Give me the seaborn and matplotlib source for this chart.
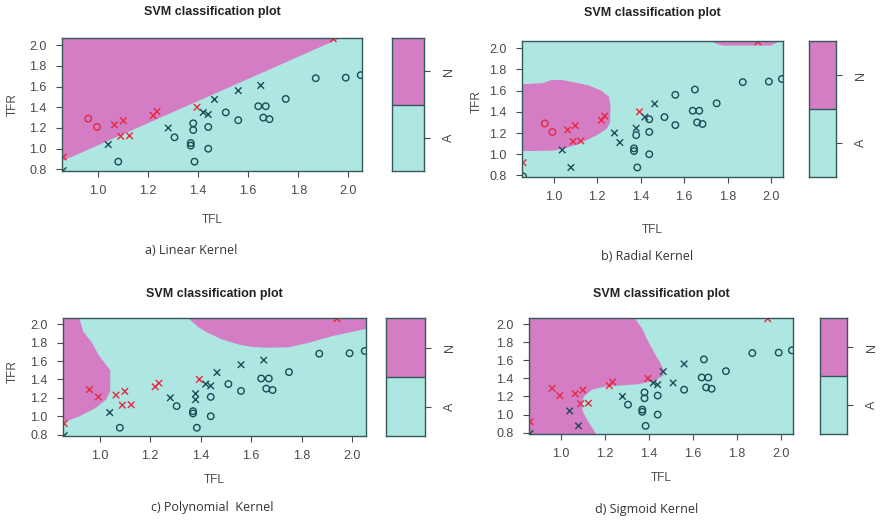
import numpy as np
import pandas as pd
import seaborn as sns
import matplotlib.pyplot as plt
from matplotlib.colors import ListedColormap

sns.set_style("white")
plt.rcParams['font.family'] = ['Liberation Sans', 'DejaVu Sans']

# 数据点 (TFL, TFR, 类别)
tfl = [0.96, 0.995, 1.065, 1.10, 1.09, 1.125, 1.22, 1.235, 1.395, 0.86, 1.94,
       0.86, 1.04, 1.08, 1.28, 1.305, 1.38, 1.38, 1.37, 1.37, 1.385,
       1.42, 1.44, 1.44, 1.44, 1.465, 1.51, 1.56, 1.56, 1.65, 1.64,
       1.67, 1.66, 1.685, 1.75, 1.87, 1.99, 2.05]
tfr = [1.29, 1.21, 1.23, 1.27, 1.12, 1.125, 1.32, 1.36, 1.40, 0.92, 2.06,
       0.79, 1.04, 0.875, 1.20, 1.11, 1.245, 1.18, 1.055, 1.03, 0.875,
       1.35, 1.33, 1.21, 1.00, 1.475, 1.35, 1.275, 1.56, 1.61, 1.41,
       1.41, 1.30, 1.285, 1.48, 1.68, 1.685, 1.71]
cls = ['N'] * 11 + ['A'] * 27

# 支持向量标记 (x = 支持向量, o = 普通数据点)
sv_linear = "ooxxxxxxxxx" + "xxoxooooooxxooxooxxoooooooo"
sv_radial = "ooxxxxxxxxx" + "oxxxxxooooxooo" + "xoooooooooooox"[:13]
sv_poly = "xxxxxxxxxxx" + "xxoxoxxoooxxooxooxx" + "oooooooo"
sv_sigmoid = "xxxxxxxxxxx" + "xxxxooooooxxooxxoxo" + "oooooooo"

# 决策区域 N 的边界 (数据坐标)
xmin, xmax = 0.855, 2.055
ymin, ymax = 0.785, 2.068
lin_tfl = [xmin, 1.97, xmin]
lin_tfr = [0.88, ymax, ymax]
rad1_tfl = [xmin, 0.90, 1.00, 1.06, 1.12, 1.20, 1.245, 1.26, 1.262, 1.255, 1.22, 1.16, 1.09, 1.04, 0.99, 0.95, xmin]
rad1_tfr = [1.03, 1.03, 1.035, 1.06, 1.10, 1.18, 1.24, 1.30, 1.45, 1.54, 1.60, 1.65, 1.68, 1.70, 1.70, 1.67, 1.66]
rad2_tfl = [1.72, 1.75, 1.78, 2.00, 2.04]
rad2_tfr = [ymax, 2.04, 2.025, 2.025, ymax]
poly1_tfl = [xmin, 0.92, 0.935, 0.97, 0.995, 1.025, 1.042, 1.042, 1.025, 0.985, 0.92, xmin]
poly1_tfr = [ymax, ymax, 1.92, 1.80, 1.67, 1.56, 1.50, 1.27, 1.18, 1.09, 1.00, 0.93]
poly2_tfl = [1.35, 1.39, 1.42, 1.48, 1.55, 1.60, 1.66, 1.75, 1.83, 1.92, xmax, xmax]
poly2_tfr = [ymax, 1.97, 1.92, 1.84, 1.78, 1.755, 1.745, 1.75, 1.80, 1.87, 1.95, ymax]
sig_tfl = [xmin, xmin, 1.335, 1.372, 1.39, 1.41, 1.43, 1.45, 1.465, 1.465, 1.42, 1.35, 1.26, 1.20, 1.14, 1.105, 1.095, 1.10, 1.125, 1.16]
sig_tfr = [ymin, ymax, ymax, 1.94, 1.84, 1.75, 1.66, 1.58, 1.50, 1.43, 1.37, 1.335, 1.32, 1.31, 1.275, 1.20, 1.12, 1.03, 0.92, ymin]

levels = ['N', 'A']
titles = ['a) Linear Kernel', 'b) Radial Kernel', 'c) Polynomial  Kernel', 'd) Sigmoid Kernel']

pink = '#D47CC4'
cyan = '#AEE7E1'
red = '#E8283E'
dark = '#1D4A58'
frame = '#35585A'
grey = '#4A4A4A'

W, H = 880, 523
fig = plt.figure(figsize=(W / 100, H / 100), dpi=100)


def box(x0, y0, x1, y1):
    return [x0 / W, 1 - y1 / H, (x1 - x0) / W, (y1 - y0) / H]


def ftext(x, y, s, **kw):
    fig.text(x / W, 1 - y / H, s, ha='center', va='center', **kw)


panels = [
    dict(main=(62, 38, 362, 171), cb=(392, 38, 424, 171), sv=sv_linear,
         regions=[(lin_tfl, lin_tfr)], title_y=12, xl_y=220, yl=(13, 105), cap=(191, 250)),
    dict(main=(522, 41, 783, 177), cb=(809, 41, 836, 177), sv=sv_radial,
         regions=[(rad1_tfl, rad1_tfr), (rad2_tfl, rad2_tfr)], title_y=13, xl_y=230, yl=(477, 102), cap=(647, 256)),
    dict(main=(63, 318, 366, 436), cb=(386, 318, 425, 436), sv=sv_poly,
         regions=[(poly1_tfl, poly1_tfr), (poly2_tfl, poly2_tfr)], title_y=294, xl_y=480, yl=(13, 372), cap=(212, 508)),
    dict(main=(529, 318, 793, 434), cb=(820, 318, 847, 434), sv=sv_sigmoid,
         regions=[(sig_tfl, sig_tfr)], title_y=294, xl_y=478, yl=None, cap=(647, 509)),
]

for p, cap in zip(panels, titles):
    ax = fig.add_axes(box(*p['main']))
    ax.set_facecolor(cyan)
    for rx, ry in p['regions']:
        ax.fill(rx, ry, color=pink, lw=0)
    df = pd.DataFrame({'TFL': tfl, 'TFR': tfr, 'cls': cls, 'sv': list(p['sv'])})
    for mk in ['o', 'x']:
        sub = df[df['sv'] == mk]
        sns.scatterplot(data=sub, x='TFL', y='TFR', hue='cls', palette={'N': red, 'A': dark},
                        marker=mk, s=22, legend=False, ax=ax)
        coll = ax.collections[-1]
        fc = coll.get_facecolors()
        coll.set_edgecolors(fc)
        coll.set_linewidths(1.0)
        if mk == 'o':
            coll.set_facecolors('none')
    ax.set_xlim(xmin, xmax)
    ax.set_ylim(ymin, ymax)
    ax.set_xticks(np.arange(1.0, 2.01, 0.2))
    ax.set_yticks(np.arange(0.8, 2.01, 0.2))
    ax.xaxis.set_major_formatter(plt.FormatStrFormatter('%.1f'))
    ax.yaxis.set_major_formatter(plt.FormatStrFormatter('%.1f'))
    ax.tick_params(axis='both', direction='out', length=4, width=0.8, color=grey,
                   labelsize=9, labelcolor=grey, bottom=True, left=True)
    ax.tick_params(axis='x', pad=6)
    ax.tick_params(axis='y', pad=7)
    ax.set_xlabel('')
    ax.set_ylabel('')
    for sp in ax.spines.values():
        sp.set_visible(True)
        sp.set_color(frame)
        sp.set_linewidth(1.0)

    # 图例色条
    cax = fig.add_axes(box(*p['cb']))
    sns.heatmap(pd.DataFrame({'c': [1, 0]}, index=levels), cmap=ListedColormap([cyan, pink]),
                cbar=False, ax=cax, xticklabels=False)
    cax.yaxis.tick_right()
    cax.set_yticks([0.5, 1.5])
    cax.set_yticklabels(levels, rotation=90, va='center')
    cax.tick_params(axis='y', right=True, left=False, length=4, width=0.8, color=grey,
                    labelsize=9, labelcolor=grey, pad=10)
    cax.set_ylabel('')
    cax.axhline(1, color=frame, lw=1.0)
    for sp in cax.spines.values():
        sp.set_visible(True)
        sp.set_color(frame)
        sp.set_linewidth(1.0)

    x0, y0, x1, y1 = p['main']
    ftext((x0 + x1) / 2, p['title_y'], 'SVM classification plot', fontsize=9, fontweight='bold', color='#222222')
    ftext((x0 + x1) / 2, p['xl_y'], 'TFL', fontsize=8.5, color=grey)
    if p['yl'] is not None:
        ftext(p['yl'][0], p['yl'][1], 'TFR', fontsize=8.5, color=grey, rotation=90)
    ftext(p['cap'][0], p['cap'][1], cap, fontsize=9, color='#333333', family=['Open Sans', 'DejaVu Sans'])

fig.savefig('out.png', dpi=100)
